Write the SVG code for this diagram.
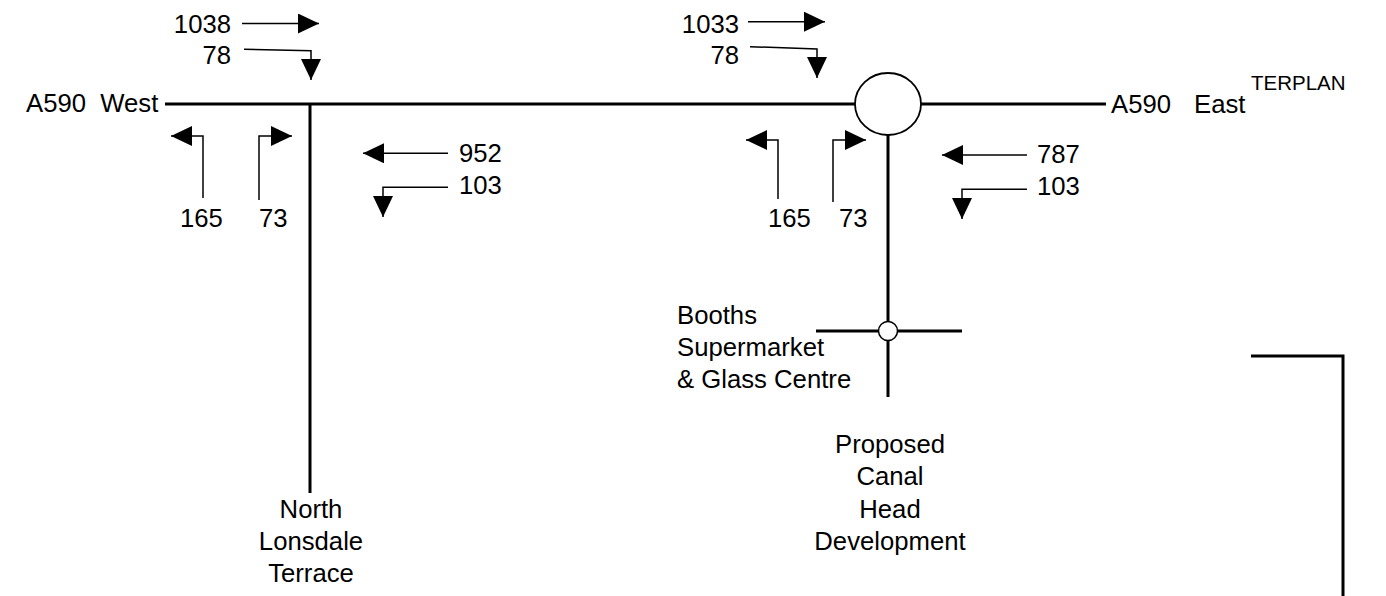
<svg xmlns="http://www.w3.org/2000/svg" width="1386" height="596" viewBox="0 0 1386 596">
<style>
text{font-family:"Liberation Sans",Arial,sans-serif;font-size:25.7px;fill:#000}
.road{stroke:#000;stroke-width:3;fill:none}
.flow{stroke:#000;stroke-width:1.5;fill:none;marker-end:url(#ah)}
.mid{text-anchor:middle}
.end{text-anchor:end}
</style>
<defs>
<marker id="ah" markerUnits="userSpaceOnUse" markerWidth="21" markerHeight="20" refX="21" refY="10" orient="auto">
<path d="M0,0 L21,10 L0,20 Z" fill="#000"/>
</marker>
</defs>
<rect width="1386" height="596" fill="#fff"/>
<g id="roads">
<line class="road" x1="165" y1="104" x2="855" y2="104"/>
<line class="road" x1="921" y1="104" x2="1106" y2="104"/>
<line class="road" x1="310" y1="104" x2="310" y2="493"/>
<line class="road" x1="888" y1="135" x2="888" y2="397"/>
<line class="road" x1="816" y1="331" x2="962" y2="331"/>
<path class="road" d="M1251,356 H1343 V596"/>
</g>
<g id="roundabout">
<ellipse cx="888" cy="104" rx="33" ry="31" fill="#fff" stroke="#000" stroke-width="1.8"/>
</g>
<g id="mini-roundabout">
<circle cx="888" cy="331" r="9.5" fill="#fff" stroke="#000" stroke-width="1.5"/>
</g>
<g id="connectors">
<path class="flow" d="M242,23.5 H319"/>
<path class="flow" d="M244,49.3 L311,50.7 V80"/>
<path class="flow" d="M203,198 V136 H171"/>
<path class="flow" d="M259,200 V136 H292"/>
<path class="flow" d="M448,153.3 H363"/>
<path class="flow" d="M448,187.3 H383 V217"/>
<path class="flow" d="M748,21.7 H825"/>
<path class="flow" d="M750,46.7 L817,49 V78"/>
<path class="flow" d="M778,199 V140 H746"/>
<path class="flow" d="M833,202 V140 H866"/>
<path class="flow" d="M1027,155 H942"/>
<path class="flow" d="M1027,189.3 H962 V219"/>
</g>
<g id="labels-west">
<text x="26" y="112" xml:space="preserve">A590  West</text>
<text class="end" x="231" y="33">1038</text>
<text class="end" x="231" y="64">78</text>
<text x="180" y="227">165</text>
<text x="259" y="227">73</text>
<text x="459" y="162">952</text>
<text x="459" y="194">103</text>
</g>
<g id="labels-east">
<text class="end" x="739" y="33">1033</text>
<text class="end" x="739" y="64">78</text>
<text x="768" y="227">165</text>
<text x="839" y="227">73</text>
<text x="1037" y="163">787</text>
<text x="1037" y="195">103</text>
<text x="1111" y="113">A590<tspan x="1194">East</tspan></text>
<text x="1251" y="90" style="font-size:20.5px">TERPLAN</text>
</g>
<g id="north-lonsdale">
<text class="mid" x="311" y="518">North</text>
<text class="mid" x="311" y="550">Lonsdale</text>
<text class="mid" x="311" y="582">Terrace</text>
</g>
<g id="booths">
<text x="677" y="324">Booths</text>
<text x="677" y="356">Supermarket</text>
<text x="677" y="388">&amp; Glass Centre</text>
</g>
<g id="canal-head">
<text class="mid" x="890" y="453">Proposed</text>
<text class="mid" x="890" y="485">Canal</text>
<text class="mid" x="890" y="518">Head</text>
<text class="mid" x="890" y="550">Development</text>
</g>
</svg>
